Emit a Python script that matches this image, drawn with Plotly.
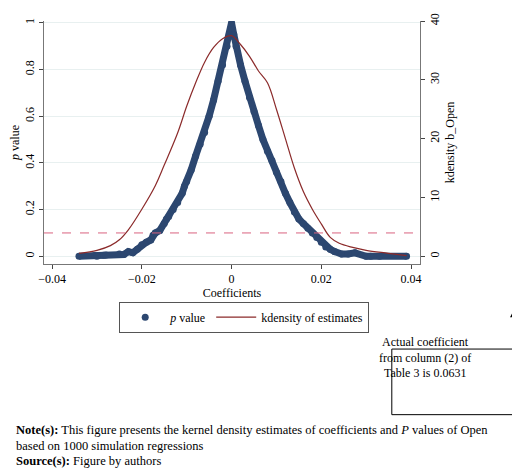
import plotly.graph_objects as go

coef = [-0.034,-0.0305,-0.030,-0.0285,-0.028,-0.025,-0.024,-0.023,-0.022,-0.021,-0.020,-0.019,-0.018,-0.0175,-0.017,-0.016,-0.015,-0.0145,-0.014,-0.013,-0.012,-0.011,-0.0105,-0.010,-0.009,-0.008,-0.007,-0.006,-0.005,-0.004,-0.003,-0.002,-0.001,-0.0005,0.0,
        0.0005,0.001,0.002,0.003,0.004,0.005,0.006,0.007,0.008,0.009,0.010,0.011,0.012,0.013,0.014,0.015,0.016,0.017,0.018,0.019,0.020,0.021,0.022,0.023,0.0245,0.026,0.0275,0.030,0.031,0.033,0.039]
pval = [0.0,0.003,0.0,0.005,0.006,0.01,0.008,0.02,0.015,0.03,0.05,0.06,0.07,0.09,0.10,0.11,0.14,0.16,0.17,0.20,0.23,0.27,0.30,0.32,0.37,0.43,0.48,0.53,0.60,0.67,0.75,0.82,0.90,0.95,1.0,
        0.95,0.90,0.82,0.75,0.68,0.62,0.56,0.50,0.45,0.41,0.36,0.32,0.27,0.23,0.19,0.16,0.14,0.12,0.10,0.08,0.06,0.04,0.03,0.02,0.01,0.01,0.015,0.0,0.0,0.0,0.0]
kd_x = [-0.034,-0.03,-0.027,-0.025,-0.023,-0.02,-0.017,-0.015,-0.012,-0.01,-0.008,-0.006,-0.004,-0.002,0.0,0.002,0.004,0.006,0.008,0.01,0.012,0.014,0.016,0.018,0.02,0.022,0.024,0.027,0.03,0.035,0.039]
kd_y = [0.5,1.0,1.8,2.8,4.5,8,12,15.5,21,25.5,29.5,33,35.5,37,37.5,36,34,31.5,29.5,25,20,15,11,8,5.5,3.2,2.2,1.5,1.0,0.5,0.1]

navy = "#2c4770"
red = "#8b2a2a"
pink = "#d9637f"
font = "Liberation Serif"

fig = go.Figure()
fig.add_trace(go.Scatter(x=coef, y=pval, mode="lines", line=dict(color=navy, width=7), showlegend=False, hoverinfo="skip"))
fig.add_trace(go.Scatter(x=coef, y=pval, mode="markers", marker=dict(color=navy, size=7), name="<i>p</i> value"))
fig.add_trace(go.Scatter(x=kd_x, y=kd_y, mode="lines", line=dict(color=red, width=1.2, shape="spline"), name="kdensity of estimates", yaxis="y2"))

fig.update_layout(
    width=520, height=475, margin=dict(l=31, r=108, t=5, b=219),
    paper_bgcolor="white", plot_bgcolor="white",
    font=dict(family=font, size=12, color="black"),
    xaxis=dict(range=[-0.0418, 0.042], tickvals=[-0.04,-0.02,0,0.02,0.04], ticktext=["−0.04","−0.02","0","0.02","0.04"],
               ticks="outside", ticklen=4, showline=True, linecolor="#777", showgrid=False, zeroline=False,
               title=dict(text="Coefficients", standoff=2, font=dict(size=12))),
    yaxis=dict(range=[-0.033, 1.008], tickvals=[0,0.2,0.4,0.6,0.8,1], ticktext=["0","0.2","0.4","0.6","0.8","1"], tickangle=-90,
               ticks="outside", ticklen=4, showline=True, linecolor="#777", gridcolor="#e8f0f0", zeroline=False,
               title=dict(text="<i>p</i> value", standoff=2, font=dict(size=12))),
    yaxis2=dict(overlaying="y", side="right", range=[-1.32, 40.0], tickvals=[0,10,20,30,40], tickangle=-90,
                ticks="outside", ticklen=4, showline=True, linecolor="#777", showgrid=False, zeroline=False,
                title=dict(text="kdensity b_Open", standoff=4, font=dict(size=12))),
    legend=dict(orientation="h", x=0.2, y=-0.155, xanchor="left", yanchor="top", bordercolor="#555", borderwidth=1,
                font=dict(size=12), itemwidth=40),
    shapes=[
        dict(type="line", xref="paper", yref="y", x0=0, x1=1, y0=0.1, y1=0.1, line=dict(color=pink, dash="dash", width=1)),
        dict(type="line", xref="paper", yref="paper", x0=1.26, x1=1.26, y0=-0.03, y1=1.02, line=dict(color=pink, dash="dot", width=1)),
        dict(type="rect", xref="paper", yref="paper", x0=0.925, x1=1.355, y0=-0.62, y1=-0.35, line=dict(color="black", width=1)),
    ],
    annotations=[
        dict(xref="paper", yref="paper", x=1.14, y=-0.485, text="Actual coefficient<br>from column (2) of<br>Table 3 is 0.0631",
             showarrow=False, font=dict(size=12)),
        dict(xref="paper", yref="paper", x=1.249, y=-0.19, ax=0, ay=40, text="",
             showarrow=True, arrowhead=2, arrowsize=1.2, arrowwidth=1.2, arrowcolor="black"),
        dict(xref="paper", yref="paper", x=-0.081, y=-0.645, xanchor="left", yanchor="top", align="left", showarrow=False,
             font=dict(size=12.5),
             text="<b>Note(s):</b> This figure presents the kernel density estimates of coefficients and <i>P</i> values of Open<br>based on 1000 simulation regressions"),
        dict(xref="paper", yref="paper", x=-0.081, y=-0.775, xanchor="left", yanchor="top", align="left", showarrow=False,
             font=dict(size=12.5), text="<b>Source(s):</b> Figure by authors"),
    ],
)
fig.write_html("out.html")
